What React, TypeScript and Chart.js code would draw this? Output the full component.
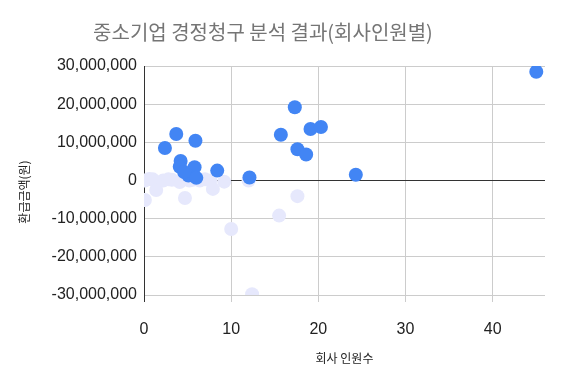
import React, { useEffect, useRef } from "react";
import { Chart, registerables } from "chart.js";

Chart.register(...registerables);

const chartTitle = "중소기업 경정청구 분석 결과(회사인원별)";
const xAxisTitle = "회사 인원수";
const yAxisTitle = "환급금액(원)";

// Series 1 (positive refunds, blue)
const blueX = [45, 17.3, 15.7, 19.1, 20.3, 17.6, 18.6, 12.1, 24.3, 3.7, 2.4, 5.9, 4.2, 4.1, 5.8, 5.1, 6.0, 8.4, 4.6];
const blueY = [28500000, 19200000, 12000000, 13500000, 14000000, 8200000, 6800000, 800000, 1500000, 12200000, 8500000, 10400000, 5100000, 3600000, 3500000, 1300000, 700000, 2600000, 2200000];

// Series 2 (others, light)
const lightX = [0.1, 1.0, 0.1, 1.4, 2.2, 3.2, 4.1, 4.7, 5.2, 6.4, 7.6, 7.9, 9.2, 10.0, 12.4, 12.0, 15.5, 17.6, 0.6, 2.8, 5.6, 7.0];
const lightY = [0, 300000, -5100000, -2500000, 0, 200000, -400000, -4600000, 0, 0, 0, -2200000, -300000, -12700000, -29800000, 0, -9200000, -4100000, 400000, 300000, 200000, 300000];

const xMin = 0;
const xMax = 46;
const xStep = 10;
const yMin = -30000000;
const yMax = 30000000;
const yStep = 10000000;

const tickFont = { family: "'Liberation Sans', Arial, sans-serif", size: 16 };
const korFont = "'Noto Sans CJK KR', 'Noto Sans', sans-serif";

export default function App() {
  const ref = useRef<HTMLCanvasElement | null>(null);
  useEffect(() => {
    if (!ref.current) return;
    const textPlugin = {
      id: "extraTitles",
      afterDraw(chart: any) {
        const ctx = chart.ctx;
        ctx.save();
        ctx.font = `20px ${korFont}`;
        ctx.fillStyle = "#757575";
        ctx.textAlign = "center";
        ctx.textBaseline = "middle";
        ctx.fillText(chartTitle, 263, 32);
        ctx.restore();

        ctx.save();
        ctx.translate(24, 192);
        ctx.rotate(-Math.PI / 2);
        ctx.font = `12px ${korFont}`;
        ctx.fillStyle = "#222";
        ctx.textAlign = "center";
        ctx.textBaseline = "middle";
        ctx.fillText(yAxisTitle, 0, 0);
        ctx.restore();
      },
    };
    const chart = new Chart(ref.current, {
      type: "scatter",
      data: {
        datasets: [
          {
            label: "환급",
            data: blueX.map((x, i) => ({ x, y: blueY[i] })),
            backgroundColor: "#4285F4",
            borderColor: "#4285F4",
            borderWidth: 0,
            pointRadius: 7,
            order: 0,
          },
          {
            label: "기타",
            data: lightX.map((x, i) => ({ x, y: lightY[i] })),
            backgroundColor: "#E6E8FC",
            borderColor: "#E6E8FC",
            borderWidth: 0,
            pointRadius: 7,
            order: 1,
          },
        ],
      },
      options: {
        responsive: false,
        animation: false,
        layout: { padding: { left: 0, right: 20, top: 66, bottom: 0 } },
        plugins: {
          legend: { display: false },
          tooltip: { enabled: false },
          title: { display: false },
        },
        scales: {
          x: {
            type: "linear",
            min: xMin,
            max: xMax,
            ticks: {
              stepSize: xStep,
              includeBounds: false,
              color: "#222",
              font: tickFont,
              padding: 18,
              maxRotation: 0,
            },
            grid: {
              color: (c: any) => (c.tick && c.tick.value === 0 ? "#333" : "#ccc"),
              tickColor: (c: any) => (c.tick && c.tick.value === 0 ? "#333" : "#ccc"),
              drawTicks: true,
              tickLength: 7,
            },
            border: { display: false },
            title: {
              display: true,
              text: xAxisTitle,
              color: "#222",
              font: { family: korFont, size: 12 },
              padding: { top: 0, bottom: 18 },
            },
            afterFit: (s: any) => {
              s.height = 89;
            },
          },
          y: {
            type: "linear",
            min: yMin,
            max: yMax,
            ticks: {
              stepSize: yStep,
              color: "#222",
              font: tickFont,
              padding: 7,
              callback: (v: any) => Number(v).toLocaleString("en-US"),
            },
            grid: {
              color: (c: any) => (c.tick && c.tick.value === 0 ? "#333" : "#ccc"),
              drawTicks: false,
            },
            border: { display: true, color: "#333" },
            afterFit: (s: any) => {
              s.width = 144;
            },
          },
        },
      },
      plugins: [textPlugin],
    });
    return () => chart.destroy();
  }, []);
  return (
    <div style={{ position: "absolute", left: 0, top: 0, width: 565, height: 384, background: "#fff" }}>
      <canvas ref={ref} width={565} height={384} />
    </div>
  );
}
